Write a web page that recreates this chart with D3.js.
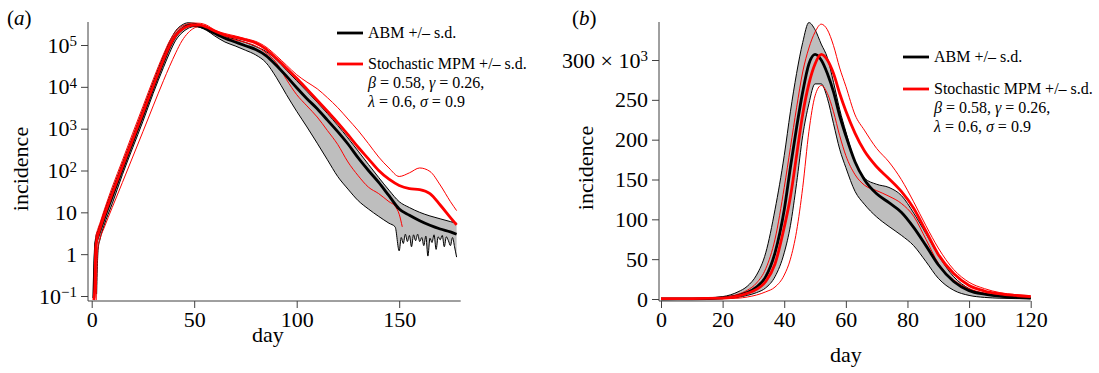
<!DOCTYPE html>
<html>
<head>
<meta charset="utf-8">
<script src="https://cdn.jsdelivr.net/npm/d3@7"></script>
<style>
  body { margin: 0; background: #fff; }
  text { font-family: "Liberation Serif", "Times New Roman", serif; fill: #000; }
</style>
</head>
<body>
<svg id="chart" width="1099" height="373"></svg>
<script>
// ---- panel (a): log scale, days 0-180 ----
var dayA = [1, 1.5, 2, 3, 4, 6, 10, 15, 20, 25, 30, 35, 38, 41, 44, 47, 50, 53, 56, 60, 65, 70, 75, 80, 85, 90, 95, 100, 105, 110, 115, 120, 125, 130, 135, 140, 145, 150, 155, 160, 165, 170, 175, 178];
var abmMeanA = [0.09, 0.6, 1.8, 2.6, 3.6, 7, 24, 110, 480, 2100, 9500, 40000, 90000, 170000, 240000, 290000, 300000, 280000, 240000, 190000, 145000, 118000, 96000, 78000, 56000, 33000, 18000, 9500, 5200, 3000, 1600, 850, 430, 200, 100, 52, 25, 12, 8.5, 6.3, 4.9, 4.0, 3.4, 3.0];
var abmHiA = [0.3, 1.5, 2.6, 3.6, 5, 10, 34, 150, 650, 2900, 13000, 55000, 120000, 220000, 300000, 340000, 330000, 305000, 265000, 215000, 160000, 138000, 115000, 92000, 70000, 45000, 25000, 14000, 7800, 4300, 2300, 1200, 600, 290, 140, 68, 34, 18, 13, 10, 8.2, 7, 6, 5.5];
var mpmMeanA = [0.08, 0.15, 1.5, 2.8, 4, 8, 28, 125, 550, 2400, 10500, 44000, 95000, 170000, 235000, 280000, 300000, 298000, 270000, 215000, 172000, 152000, 132000, 112000, 80000, 48000, 28000, 16000, 8800, 4800, 2600, 1400, 720, 360, 190, 100, 62, 44, 37, 35, 28, 15, 7.5, 5];
var mpmHiA = [0.1, 0.8, 2.5, 4, 5.5, 11, 40, 175, 780, 3400, 15000, 60000, 125000, 210000, 280000, 320000, 335000, 330000, 300000, 228000, 188000, 165000, 142000, 122000, 90000, 56000, 33000, 19500, 13000, 9000, 5500, 3200, 1700, 900, 440, 210, 115, 72, 88, 115, 95, 45, 18, 11];

var abmLoDayA = [2.4, 2.8, 3.2, 4, 6, 10, 15, 20, 25, 30, 35, 38, 41, 44, 47, 50, 53, 56, 60, 65, 70, 75, 80, 85, 90, 95, 100, 105, 110, 115, 120, 125, 130, 135, 140, 145, 148,
  150, 151, 152, 153, 154, 155, 156, 157, 158, 159, 160, 161, 162, 163, 164, 165, 166, 167, 168, 169, 170, 171, 172, 173, 174, 175, 176, 177, 178];
var abmLoA = [0.11, 0.6, 1.4, 2.2, 4.8, 16, 80, 350, 1500, 7000, 29000, 65000, 130000, 195000, 250000, 275000, 262000, 225000, 165000, 118000, 95000, 75000, 58000, 38000, 17000, 6500, 2600, 1100, 450, 180, 72, 36, 19, 12, 8, 5.5, 4.5,
  1.2, 2.5, 1.8, 3.0, 2.0, 2.8, 1.5, 2.9, 2.1, 3.0, 2.0, 2.5, 1.6, 2.7, 0.9, 2.4, 1.9, 2.9, 1.3, 2.6, 2.2, 2.8, 1.5, 2.6, 2.1, 1.6, 2.5, 1.5, 0.85];

var mpmLoDayA = [2.2, 2.6, 3, 4, 6, 10, 15, 20, 25, 30, 35, 38, 41, 44, 47, 50, 53, 56, 60, 65, 70, 75, 80, 85, 90, 95, 100, 105, 110, 115, 120, 125, 130, 135, 140, 145, 148, 150, 151.5];
var mpmLoA = [0.08, 0.6, 1.4, 2.3, 4.2, 13, 52, 210, 850, 3500, 14000, 31000, 65000, 125000, 195000, 255000, 278000, 255000, 205000, 150000, 132000, 115000, 95000, 65000, 38000, 15000, 6500, 3500, 1900, 900, 420, 160, 75, 40, 28, 18, 14, 9, 4.5];

var yTicksA = [0.1, 1, 10, 100, 1000, 10000, 100000];
var xTicksA = [0, 50, 100, 150];

// ---- panel (b): linear scale (x 10^3), days 0-120 ----
var dayB = [0, 10, 20, 25, 28, 31, 34, 37, 40, 42, 44, 46, 48, 50, 52, 54, 56, 58, 60, 63, 66, 70, 74, 78, 82, 86, 90, 95, 100, 105, 110, 115, 120];
var abmMeanB = [0, 0.1, 1.5, 4, 8, 15, 28, 58, 112, 165, 215, 260, 295, 307, 300, 283, 260, 230, 205, 172, 150, 132, 121, 109, 90, 67, 43, 22, 10.5, 6, 3.5, 2, 1.2];
var abmHiB = [0, 0.2, 3, 9, 16, 30, 58, 112, 180, 235, 283, 322, 347, 338, 320, 303, 272, 238, 210, 172, 152, 144, 140, 130, 108, 82, 55, 28, 13, 6, 3, 1.5, 1];
var abmLoB = [0, 0, 0.6, 2.2, 4.5, 8, 14, 28, 58, 92, 145, 205, 245, 270, 270, 252, 220, 188, 165, 135, 119, 103, 91, 80, 67, 47, 26, 11, 4.5, 2, 1, 0.5, 0.3];
var mpmMeanB = [0.5, 0.5, 1, 3.5, 7, 12, 22, 44, 90, 128, 180, 232, 270, 295, 307, 300, 283, 258, 236, 208, 186, 166, 151, 135, 114, 85, 56, 32, 17, 10, 6.5, 4.5, 3];
var mpmHiB = [0.5, 0.5, 2, 6, 11, 20, 38, 75, 140, 190, 240, 285, 315, 335, 345, 338, 318, 290, 267, 231, 212, 189, 172, 150, 122, 92, 64, 37, 21, 13, 8, 5.5, 4];
var mpmLoB = [0.2, 0.2, 0.4, 1, 2.5, 5, 9, 15, 30, 50, 85, 140, 210, 255, 268, 258, 235, 205, 180, 156, 143, 136, 129, 120, 104, 75, 45, 24, 13, 7.5, 5, 3.5, 2.5];

var yTicksB = [0, 50, 100, 150, 200, 250, 300];
var xTicksB = [0, 20, 40, 60, 80, 100, 120];

var legendLabels = ["ABM +/\u2013 s.d.", "Stochastic MPM +/\u2013 s.d."];

var serif = '"Liberation Serif", "Times New Roman", serif';
var colors = { band: "#bebebe", abm: "#000", mpm: "#ff0000", axis: "#404040" };
var thick = 2.8, thin = 1;

var svg = d3.select("#chart");
svg.append("rect").attr("width", 1099).attr("height", 373).attr("fill", "#fff");

function pts(xs, ys) { return xs.map(function(d, i) { return [d, ys[i]]; }); }

// =============== panel (a) ===============
var xA = d3.scaleLinear().domain([0, 180]).range([91.7, 460.7]);
var yA = d3.scaleLog().domain([Math.pow(10, -1.1195), Math.pow(10, 5.55)]).range([301, 22]);

var lineA = d3.line()
  .x(d => xA(d[0]))
  .y(d => yA(d[1]))
  .curve(d3.curveMonotoneX);

var gA = svg.append("g");

// gray s.d. band: upper edge forward, lower edge back
var hiPts = pts(dayA, abmHiA);
var loPts = pts(abmLoDayA, abmLoA);
var bandPath = lineA(hiPts) + "L" + lineA(loPts.slice().reverse()).slice(1) + "Z";
gA.append("path").attr("d", bandPath).attr("fill", colors.band).attr("stroke", "none");

gA.append("path").attr("d", lineA(hiPts)).attr("fill", "none").attr("stroke", colors.abm).attr("stroke-width", thin);
gA.append("path").attr("d", lineA(loPts)).attr("fill", "none").attr("stroke", colors.abm).attr("stroke-width", thin);
gA.append("path").attr("d", lineA(pts(dayA, mpmHiA))).attr("fill", "none").attr("stroke", colors.mpm).attr("stroke-width", thin);
gA.append("path").attr("d", lineA(pts(mpmLoDayA, mpmLoA))).attr("fill", "none").attr("stroke", colors.mpm).attr("stroke-width", thin);
gA.append("path").attr("d", lineA(pts(dayA, abmMeanA))).attr("fill", "none").attr("stroke", colors.abm).attr("stroke-width", thick);
gA.append("path").attr("d", lineA(pts(dayA, mpmMeanA))).attr("fill", "none").attr("stroke", colors.mpm).attr("stroke-width", thick);

// axes
var yAxisA = svg.append("g")
  .attr("transform", "translate(88,0)")
  .call(d3.axisLeft(yA).tickValues(yTicksA).tickSize(7).tickPadding(4).tickSizeOuter(0));
yAxisA.selectAll(".tick text").each(function(d) {
  var t = d3.select(this);
  var e = Math.round(Math.log10(d));
  t.text(null);
  if (e === 0) t.text("1");
  else if (e === 1) t.text("10");
  else {
    t.text("10");
    t.append("tspan").attr("dy", "-0.42em").attr("font-size", "0.68em").text(e < 0 ? "\u2212" + (-e) : e);
  }
});

var xAxisA = svg.append("g")
  .attr("transform", "translate(0,301)")
  .call(d3.axisBottom(xA).tickValues(xTicksA).tickSize(7).tickPadding(3).tickSizeOuter(0));

// =============== panel (b) ===============
var xB = d3.scaleLinear().domain([0, 120]).range([661, 1030.7]);
var yB = d3.scaleLinear().domain([0, 300]).range([299, 60]);

var lineB = d3.line()
  .x(d => xB(d[0]))
  .y(d => yB(d[1]))
  .curve(d3.curveMonotoneX);

var bandB = d3.area()
  .x(d => xB(d[0]))
  .y0(d => yB(d[2]))
  .y1(d => yB(d[1]))
  .curve(d3.curveMonotoneX);

var gB = svg.append("g");
gB.append("path").attr("d", bandB(dayB.map((d, i) => [d, abmHiB[i], abmLoB[i]]))).attr("fill", colors.band);
gB.append("path").attr("d", lineB(pts(dayB, abmHiB))).attr("fill", "none").attr("stroke", colors.abm).attr("stroke-width", thin);
gB.append("path").attr("d", lineB(pts(dayB, abmLoB))).attr("fill", "none").attr("stroke", colors.abm).attr("stroke-width", thin);
gB.append("path").attr("d", lineB(pts(dayB, mpmHiB))).attr("fill", "none").attr("stroke", colors.mpm).attr("stroke-width", thin);
gB.append("path").attr("d", lineB(pts(dayB, mpmLoB))).attr("fill", "none").attr("stroke", colors.mpm).attr("stroke-width", thin);
gB.append("path").attr("d", lineB(pts(dayB, abmMeanB))).attr("fill", "none").attr("stroke", colors.abm).attr("stroke-width", thick);
gB.append("path").attr("d", lineB(pts(dayB, mpmMeanB))).attr("fill", "none").attr("stroke", colors.mpm).attr("stroke-width", thick);

var yAxisB = svg.append("g")
  .attr("transform", "translate(659,0)")
  .call(d3.axisLeft(yB).tickValues(yTicksB).tickSize(7).tickPadding(4).tickSizeOuter(0));
yAxisB.selectAll(".tick text").filter(d => d === 300).each(function(d) {
  var t = d3.select(this);
  t.text(d + " \u00d7 10");
  t.append("tspan").attr("dy", "-0.42em").attr("font-size", "0.68em").text("3");
});

var xAxisB = svg.append("g")
  .attr("transform", "translate(0,301)")
  .call(d3.axisBottom(xB).tickValues(xTicksB).tickSize(7).tickPadding(3).tickSizeOuter(0));

// common axis styling
[yAxisA, xAxisA, yAxisB, xAxisB].forEach(function(ax) {
  ax.attr("font-family", serif).attr("font-size", 22);
  ax.select(".domain").remove();
  ax.selectAll(".tick line").attr("stroke", colors.axis);
  ax.selectAll(".tick text").attr("fill", "#000").style("font-family", serif).style("font-size", "22px");
});

// axis lines (L shape, open)
svg.append("line").attr("x1", 88).attr("x2", 88).attr("y1", 22).attr("y2", 301).attr("stroke", colors.axis);
svg.append("line").attr("x1", 88).attr("x2", xA(180)).attr("y1", 301).attr("y2", 301).attr("stroke", colors.axis);
svg.append("line").attr("x1", 659).attr("x2", 659).attr("y1", 22).attr("y2", 301).attr("stroke", colors.axis);
svg.append("line").attr("x1", 659).attr("x2", xB(120)).attr("y1", 301).attr("y2", 301).attr("stroke", colors.axis);

// axis titles
svg.append("text").attr("transform", "translate(28,169) rotate(-90)")
  .attr("text-anchor", "middle").attr("font-size", 22).text("incidence");
svg.append("text").attr("transform", "translate(593,168) rotate(-90)")
  .attr("text-anchor", "middle").attr("font-size", 22).text("incidence");
svg.append("text").attr("x", 268).attr("y", 342).attr("text-anchor", "middle").attr("font-size", 22).text("day");
svg.append("text").attr("x", 846).attr("y", 362).attr("text-anchor", "middle").attr("font-size", 22).text("day");

// panel letters
function panelLabel(x, letter) {
  var t = svg.append("text").attr("x", x).attr("y", 25).attr("font-size", 21);
  t.append("tspan").text("(");
  t.append("tspan").attr("font-style", "italic").text(letter);
  t.append("tspan").text(")");
}
panelLabel(7, "a");
panelLabel(572, "b");

// legends
function legend(x, yAbm, yMpm, step) {
  var g = svg.append("g").attr("font-size", 16);
  g.append("line").attr("x1", x).attr("x2", x + 26).attr("y1", yAbm).attr("y2", yAbm)
    .attr("stroke", colors.abm).attr("stroke-width", thick);
  g.append("text").attr("x", x + 31).attr("y", yAbm + 5).text(legendLabels[0]);
  g.append("line").attr("x1", x).attr("x2", x + 26).attr("y1", yMpm).attr("y2", yMpm)
    .attr("stroke", colors.mpm).attr("stroke-width", thick);
  g.append("text").attr("x", x + 31).attr("y", yMpm + 5).text(legendLabels[1]);

  var p1 = g.append("text").attr("x", x + 31).attr("y", yMpm + 5 + step);
  p1.append("tspan").attr("font-style", "italic").text("\u03b2");
  p1.append("tspan").text(" = 0.58, ");
  p1.append("tspan").attr("font-style", "italic").text("\u03b3");
  p1.append("tspan").text(" = 0.26,");

  var p2 = g.append("text").attr("x", x + 31).attr("y", yMpm + 5 + 2 * step);
  p2.append("tspan").attr("font-style", "italic").text("\u03bb");
  p2.append("tspan").text(" = 0.6, ");
  p2.append("tspan").attr("font-style", "italic").text("\u03c3");
  p2.append("tspan").text(" = 0.9");
}
legend(337, 33, 64, 19);
legend(903, 57, 89, 19);
</script>
</body>
</html>
